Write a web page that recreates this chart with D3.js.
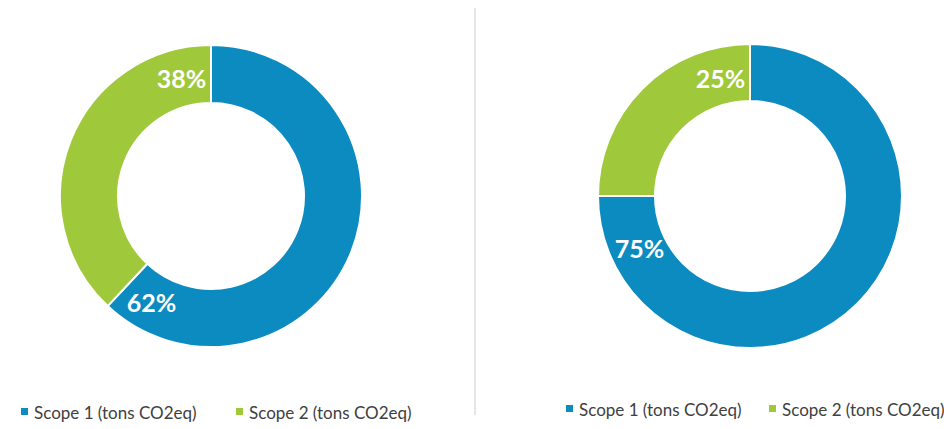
<!DOCTYPE html>
<html><head><meta charset="utf-8">
<script src="https://cdn.jsdelivr.net/npm/d3@7"></script>
<style>body{margin:0;background:#fff}svg{display:block}</style>
</head><body>
<svg id="c" width="944" height="429"></svg>
<script>
const categories = ["Scope 1 (tons CO2eq)", "Scope 2 (tons CO2eq)"];
const chartA = [62, 38];
const chartB = [75, 25];
const colors = ["#0C8BC0", "#9FC83A"];

const svg = d3.select("#c");
const font = "Lato, 'Open Sans', sans-serif";

svg.append("line").attr("x1", 475).attr("x2", 475).attr("y1", 8).attr("y2", 415)
  .attr("stroke", "#dcdce0").attr("stroke-width", 1.5);

const color = d3.scaleOrdinal().domain(categories).range(colors);
const pie = d3.pie().sort(null).value(d => d.v);

function donut(values, cx, cy, R, r, legendX, legendY, legendGap) {
  const data = categories.map((c, i) => ({c, v: values[i]}));
  const arcs = pie(data);
  const arc = d3.arc().innerRadius(r).outerRadius(R);
  const g = svg.append("g").attr("transform", `translate(${cx},${cy})`);
  g.selectAll("path").data(arcs).join("path")
    .attr("d", arc).attr("fill", d => color(d.data.c))
    .attr("stroke", "#fff").attr("stroke-width", 2);
  const total = d3.sum(values);
  const lr = 122;
  const delta = d => (d.endAngle - d.startAngle > 4 ? 25 : 14) * Math.PI / 180;
  g.selectAll("text").data(arcs).join("text")
    .attr("x", d => lr * Math.sin(d.endAngle - delta(d)))
    .attr("y", d => -lr * Math.cos(d.endAngle - delta(d)))
    .attr("text-anchor", "middle").attr("dominant-baseline", "central")
    .attr("fill", "#fff").attr("font-family", font).attr("font-weight", "bold")
    .attr("font-size", 25)
    .text(d => Math.round(d.data.v / total * 100) + "%");
  const lg = svg.append("g").attr("transform", `translate(${legendX},${legendY})`);
  const items = lg.selectAll("g").data(categories).join("g")
    .attr("transform", (d, i) => `translate(${i * legendGap},0)`);
  items.append("rect").attr("x", 0).attr("y", -4).attr("width", 7).attr("height", 7)
    .attr("fill", d => color(d));
  items.append("text").attr("x", 13).attr("y", 0).attr("dominant-baseline", "central")
    .attr("font-family", font).attr("font-size", 17).attr("fill", "#404040")
    .text(d => d);
}

donut(chartA, 211, 196, 151, 93, 21, 412, 215);
donut(chartB, 750, 196, 152, 95, 566, 409, 203);
</script>
</body></html>
